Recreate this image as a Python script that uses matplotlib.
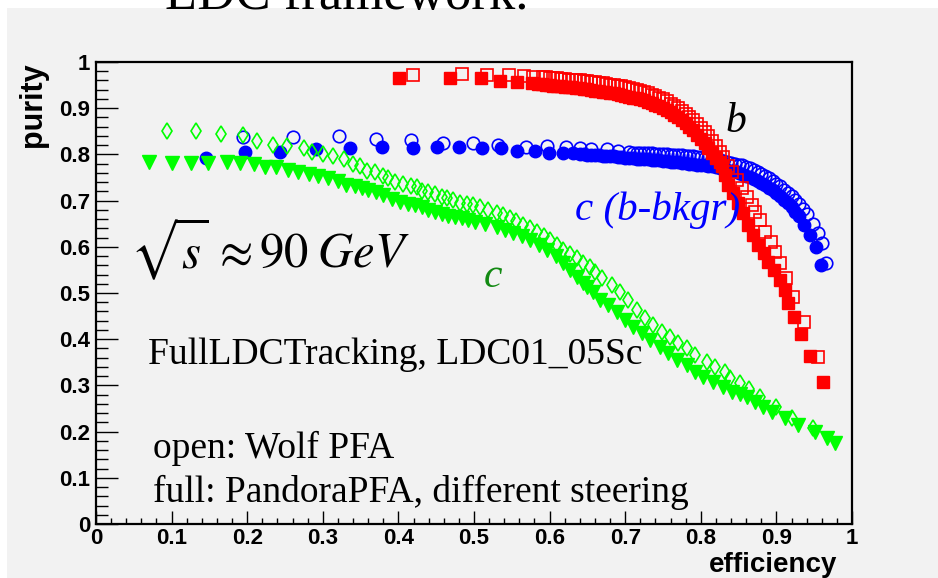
import matplotlib
matplotlib.use("Agg")
import matplotlib.pyplot as plt
from matplotlib.patches import Rectangle
from matplotlib.ticker import MultipleLocator

plt.rcParams['mathtext.fontset'] = 'stix'

# b-tag, PandoraPFA (full red squares)
eff_b_pandora = [0.401, 0.468, 0.509, 0.534, 0.557, 0.577,
                 0.585, 0.59, 0.595, 0.60, 0.605, 0.61, 0.615, 0.62, 0.625, 0.63,
                 0.635, 0.64, 0.645, 0.65, 0.655, 0.66, 0.665, 0.67, 0.675, 0.68,
                 0.685, 0.69, 0.695, 0.70, 0.705, 0.71, 0.715, 0.72, 0.725, 0.73,
                 0.735, 0.74, 0.745, 0.75, 0.755, 0.76, 0.765, 0.77, 0.775, 0.78,
                 0.785, 0.79, 0.795, 0.80, 0.805, 0.81, 0.815, 0.82, 0.825,
                 0.828, 0.832, 0.836, 0.843, 0.849, 0.856, 0.863, 0.869, 0.876, 0.883,
                 0.889, 0.897, 0.905, 0.911, 0.915, 0.923, 0.933, 0.944, 0.961]
pur_b_pandora = [0.965, 0.965, 0.965, 0.959, 0.957, 0.955,
                 0.953, 0.952, 0.951, 0.950, 0.949, 0.948, 0.947, 0.946, 0.945, 0.945,
                 0.944, 0.943, 0.942, 0.941, 0.940, 0.938, 0.937, 0.936, 0.935, 0.933,
                 0.932, 0.930, 0.929, 0.927, 0.925, 0.923, 0.921, 0.919, 0.917, 0.914,
                 0.911, 0.908, 0.904, 0.900, 0.896, 0.891, 0.886, 0.880, 0.874, 0.868,
                 0.860, 0.852, 0.843, 0.834, 0.824, 0.814, 0.804, 0.793, 0.784,
                 0.775, 0.755, 0.734, 0.716, 0.695, 0.673, 0.647, 0.626, 0.604, 0.587,
                 0.567, 0.550, 0.528, 0.506, 0.478, 0.448, 0.411, 0.364, 0.307]

# b-tag, Wolf PFA (open red squares)
eff_b_wolf = [0.419, 0.484, 0.517, 0.546, 0.566, 0.578, 0.591,
              0.595, 0.60, 0.605, 0.61, 0.615, 0.62, 0.625, 0.63, 0.635, 0.64,
              0.645, 0.65, 0.655, 0.66, 0.665, 0.67, 0.675, 0.68, 0.685, 0.69,
              0.695, 0.70, 0.705, 0.71, 0.715, 0.72, 0.725, 0.73, 0.735, 0.74,
              0.745, 0.75, 0.755, 0.76, 0.765, 0.77, 0.775, 0.78, 0.785, 0.79,
              0.795, 0.80, 0.805, 0.81, 0.815, 0.82, 0.825,
              0.829, 0.836, 0.841, 0.848, 0.854, 0.861, 0.868, 0.872, 0.878, 0.885,
              0.893, 0.898, 0.905, 0.913, 0.922, 0.937, 0.955]
pur_b_wolf = [0.972, 0.974, 0.972, 0.972, 0.970, 0.968, 0.968,
              0.967, 0.966, 0.965, 0.965, 0.964, 0.963, 0.962, 0.962, 0.961, 0.960,
              0.959, 0.958, 0.957, 0.956, 0.955, 0.954, 0.953, 0.951, 0.950, 0.948,
              0.947, 0.945, 0.943, 0.941, 0.939, 0.937, 0.935, 0.932, 0.929, 0.926,
              0.923, 0.919, 0.915, 0.910, 0.905, 0.900, 0.894, 0.888, 0.881, 0.874,
              0.866, 0.858, 0.849, 0.840, 0.829, 0.818, 0.806,
              0.795, 0.775, 0.762, 0.745, 0.727, 0.708, 0.690, 0.675, 0.658, 0.632,
              0.610, 0.589, 0.565, 0.532, 0.491, 0.437, 0.361]

# c-tag with b background, PandoraPFA (full blue circles)
eff_cb_pandora = [0.146, 0.197, 0.243, 0.291, 0.336, 0.378, 0.419, 0.451, 0.480, 0.511,
                  0.536, 0.557, 0.581, 0.599, 0.618, 0.631,
                  0.64, 0.645, 0.65, 0.655, 0.66, 0.665, 0.67, 0.675, 0.68, 0.685,
                  0.69, 0.695, 0.70, 0.705, 0.71, 0.715, 0.72, 0.725, 0.73, 0.735,
                  0.74, 0.745, 0.75, 0.755, 0.76, 0.765, 0.77, 0.775, 0.78, 0.785,
                  0.79, 0.795, 0.80, 0.805, 0.81, 0.815, 0.82, 0.825, 0.83, 0.835,
                  0.84, 0.845, 0.85, 0.855, 0.86, 0.865, 0.87, 0.875, 0.88, 0.885,
                  0.89, 0.895, 0.90, 0.905, 0.91, 0.915, 0.92, 0.925, 0.93,
                  0.937, 0.944, 0.953, 0.959]
pur_cb_pandora = [0.792, 0.805, 0.805, 0.812, 0.814, 0.816, 0.814, 0.816, 0.816, 0.814,
                  0.814, 0.807, 0.807, 0.803, 0.803, 0.803,
                  0.800, 0.800, 0.799, 0.799, 0.798, 0.798, 0.797, 0.797, 0.796, 0.796,
                  0.795, 0.794, 0.793, 0.793, 0.792, 0.791, 0.790, 0.790, 0.789, 0.788,
                  0.787, 0.787, 0.786, 0.785, 0.784, 0.784, 0.783, 0.782, 0.781, 0.780,
                  0.779, 0.778, 0.777, 0.776, 0.775, 0.774, 0.772, 0.771, 0.769, 0.767,
                  0.765, 0.763, 0.760, 0.757, 0.754, 0.751, 0.747, 0.743, 0.738, 0.733,
                  0.728, 0.722, 0.716, 0.709, 0.702, 0.694, 0.686, 0.676, 0.666,
                  0.647, 0.626, 0.600, 0.561]

# c-tag with b background, Wolf PFA (open blue circles)
eff_cb_wolf = [0.194, 0.261, 0.321, 0.370, 0.417, 0.459, 0.499, 0.532, 0.569, 0.597,
               0.622, 0.640, 0.655, 0.676, 0.690,
               0.705, 0.71, 0.715, 0.72, 0.725, 0.73, 0.735, 0.74, 0.745, 0.75,
               0.755, 0.76, 0.765, 0.77, 0.775, 0.78, 0.785, 0.79, 0.795, 0.80,
               0.805, 0.81, 0.815, 0.82, 0.825, 0.83, 0.835, 0.84, 0.845, 0.85,
               0.855, 0.86, 0.865, 0.87, 0.875, 0.88, 0.885, 0.89, 0.895, 0.90,
               0.905, 0.91, 0.915, 0.92, 0.925, 0.93, 0.935, 0.94,
               0.948, 0.955, 0.960, 0.966]
pur_cb_wolf = [0.838, 0.838, 0.840, 0.833, 0.831, 0.825, 0.825, 0.820, 0.816, 0.818,
               0.816, 0.814, 0.812, 0.812, 0.807,
               0.805, 0.804, 0.804, 0.803, 0.803, 0.802, 0.802, 0.801, 0.801, 0.800,
               0.800, 0.799, 0.799, 0.798, 0.798, 0.797, 0.797, 0.796, 0.795, 0.794,
               0.793, 0.792, 0.791, 0.789, 0.788, 0.786, 0.784, 0.782, 0.780, 0.778,
               0.776, 0.773, 0.770, 0.766, 0.762, 0.758, 0.753, 0.748, 0.743, 0.737,
               0.731, 0.724, 0.717, 0.709, 0.701, 0.692, 0.682, 0.672,
               0.650, 0.630, 0.608, 0.565]

# c-tag, PandoraPFA (full green triangles)
eff_c_pandora = [0.070, 0.100, 0.126, 0.148, 0.173, 0.190, 0.209, 0.224, 0.238, 0.254,
                 0.267, 0.282, 0.294, 0.307, 0.320, 0.331, 0.343, 0.352, 0.360, 0.370,
                 0.380, 0.392, 0.402, 0.413, 0.422, 0.431, 0.439, 0.448, 0.458, 0.466,
                 0.475, 0.484, 0.492, 0.501, 0.515, 0.530, 0.541, 0.552, 0.563, 0.574,
                 0.586, 0.597, 0.608, 0.618, 0.627, 0.636, 0.644, 0.649, 0.657, 0.667,
                 0.677, 0.689, 0.700, 0.710, 0.722, 0.733, 0.746, 0.757, 0.769, 0.782,
                 0.792, 0.803, 0.816, 0.829, 0.841, 0.852, 0.861, 0.872, 0.882, 0.894,
                 0.911, 0.929, 0.951, 0.967, 0.978]
pur_c_pandora = [0.784, 0.781, 0.781, 0.781, 0.784, 0.781, 0.779, 0.773, 0.773, 0.766,
                 0.762, 0.758, 0.753, 0.749, 0.742, 0.734, 0.732, 0.727, 0.723, 0.719,
                 0.712, 0.703, 0.697, 0.693, 0.690, 0.686, 0.680, 0.675, 0.671, 0.667,
                 0.665, 0.662, 0.658, 0.654, 0.650, 0.643, 0.636, 0.630, 0.623, 0.615,
                 0.604, 0.593, 0.580, 0.565, 0.550, 0.535, 0.522, 0.513, 0.502, 0.485,
                 0.474, 0.459, 0.442, 0.426, 0.413, 0.398, 0.383, 0.370, 0.355, 0.344,
                 0.329, 0.318, 0.307, 0.297, 0.286, 0.281, 0.275, 0.264, 0.253, 0.242,
                 0.229, 0.214, 0.199, 0.186, 0.175]

# c-tag, Wolf PFA (open green diamonds)
eff_c_wolf = [0.094, 0.132, 0.165, 0.194, 0.213, 0.234, 0.253, 0.275, 0.286, 0.300,
              0.313, 0.328, 0.340, 0.349, 0.358, 0.369, 0.380, 0.386, 0.396, 0.406,
              0.417, 0.425, 0.431, 0.439, 0.448, 0.458, 0.464, 0.472, 0.481, 0.491,
              0.499, 0.508, 0.519, 0.530, 0.539, 0.548, 0.556, 0.565, 0.574, 0.583,
              0.592, 0.601, 0.610, 0.618, 0.627, 0.636, 0.644, 0.653, 0.660, 0.669,
              0.683, 0.693, 0.704, 0.716, 0.726, 0.737, 0.749, 0.759, 0.770, 0.782,
              0.792, 0.808, 0.819, 0.832, 0.839, 0.852, 0.864, 0.878, 0.899, 0.921,
              0.948]
pur_c_wolf = [0.851, 0.851, 0.844, 0.842, 0.829, 0.820, 0.818, 0.814, 0.805, 0.801,
              0.797, 0.790, 0.779, 0.775, 0.764, 0.762, 0.753, 0.749, 0.740, 0.736,
              0.732, 0.729, 0.721, 0.719, 0.714, 0.708, 0.706, 0.701, 0.695, 0.693,
              0.690, 0.686, 0.680, 0.673, 0.668, 0.662, 0.655, 0.647, 0.640, 0.632,
              0.624, 0.615, 0.604, 0.593, 0.585, 0.576, 0.565, 0.556, 0.545, 0.532,
              0.517, 0.502, 0.485, 0.463, 0.446, 0.431, 0.416, 0.405, 0.392, 0.381,
              0.366, 0.351, 0.340, 0.329, 0.316, 0.305, 0.292, 0.275, 0.253, 0.229,
              0.208]

bg = '#f2f2f2'
fig = plt.figure(figsize=(9.38, 5.78), dpi=100)
fig.patch.set_facecolor('white')
# grey canvas of the slide, behind the axes
canvas = Rectangle((7 / 938, 0), 1, 570 / 578, transform=fig.transFigure,
                   facecolor=bg, edgecolor='none', zorder=-10)
fig.add_artist(canvas)

ax = fig.add_axes([96 / 938, 54 / 578, 756 / 938, 462 / 578])
ax.set_facecolor(bg)
ax.set_xlim(0, 1)
ax.set_ylim(0, 1)

# blue first, then red, then green on top
ax.plot(eff_cb_wolf, pur_cb_wolf, 'o', ls='none', ms=9, mfc='none', mec='#0000ff', mew=1.2)
ax.plot(eff_cb_pandora, pur_cb_pandora, 'o', ls='none', ms=9, mfc='#0000ff', mec='#0000ff')
ax.plot(eff_b_wolf, pur_b_wolf, 's', ls='none', ms=8.5, mfc='none', mec='#ff0000', mew=1.2)
ax.plot(eff_b_pandora, pur_b_pandora, 's', ls='none', ms=8.5, mfc='#ff0000', mec='#ff0000')
ax.plot(eff_c_pandora, pur_c_pandora, 'v', ls='none', ms=10, mfc='#00ff00', mec='#00ff00')
ax.plot(eff_c_wolf, pur_c_wolf, 'd', ls='none', ms=8, mfc='none', mec='#00ff00', mew=1.2)

for s in ax.spines.values():
    s.set_linewidth(1.6)

ax.xaxis.set_major_locator(MultipleLocator(0.1))
ax.xaxis.set_minor_locator(MultipleLocator(0.02))
ax.yaxis.set_major_locator(MultipleLocator(0.1))
ax.yaxis.set_minor_locator(MultipleLocator(0.02))
ax.tick_params(axis='x', which='major', direction='in', length=9.5, width=1, top=False, pad=3)
ax.tick_params(axis='x', which='minor', direction='in', length=4.5, width=1, top=False)
ax.tick_params(axis='y', which='major', direction='in', length=16, width=1, right=False, pad=4)
ax.tick_params(axis='y', which='minor', direction='in', length=8.5, width=1, right=False)

def fmt(v):
    return '0' if v == 0 else ('1' if v == 1 else '%.1f' % v)

ticks = [i / 10 for i in range(11)]
ax.set_xticks(ticks)
ax.set_xticklabels([fmt(t) for t in ticks])
ax.set_yticks(ticks)
ax.set_yticklabels([fmt(t) for t in ticks])
for lab in ax.get_xticklabels() + ax.get_yticklabels():
    lab.set_family('Liberation Sans')
    lab.set_weight('bold')
    lab.set_size(16)

ax.text(0.981, -0.089, 'efficiency', transform=ax.transAxes, ha='right', va='center',
        family='Liberation Sans', weight='bold', fontsize=20)
ax.text(-0.083, 1.0, 'purity', transform=ax.transAxes, ha='center', va='top', rotation=90,
        family='Liberation Sans', weight='bold', fontsize=22)

serif = 'Liberation Serif'
ax.text(0.069, 0.346, 'FullLDCTracking, LDC01_05Sc', family=serif, fontsize=27)
ax.text(0.075, 0.143, 'open: Wolf PFA', family=serif, fontsize=27)
ax.text(0.075, 0.048, 'full: PandoraPFA, different steering', family=serif, fontsize=27)
ax.text(0.045, 0.554, r'$\sqrt{s}\,\approx 90\;GeV$', fontsize=35)
ax.text(0.832, 0.848, 'b', family=serif, style='italic', fontsize=30, color='black')
ax.text(0.634, 0.658, 'c (b-bkgr)', family=serif, style='italic', fontsize=29.5, color='#0000ff')
ax.text(0.513, 0.513, 'c', family=serif, style='italic', fontsize=30, color='#138a13')

fig.text(165 / 938, 1 - 9 / 578, 'LDC framework.', family=serif, fontsize=38,
         ha='left', va='baseline')

fig.savefig('out.png', dpi=100, facecolor=fig.get_facecolor())
